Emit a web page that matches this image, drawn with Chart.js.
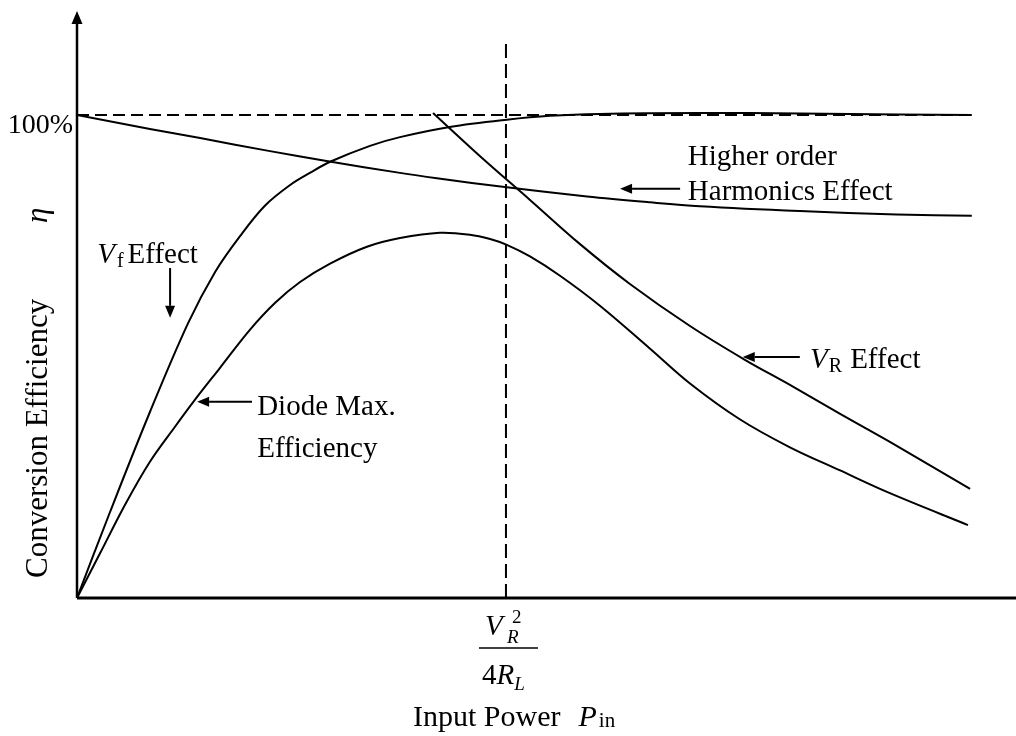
<!DOCTYPE html>
<html>
<head>
<meta charset="utf-8">
<script src="https://cdn.jsdelivr.net/npm/chart.js@4/dist/chart.umd.min.js"></script>
<style>
  html, body { margin: 0; padding: 0; background: #fff; }
  #wrap { width: 1016px; height: 736px; position: relative; }
</style>
</head>
<body>
<div id="wrap"><canvas id="effChart"></canvas></div>
<script>
// x: input power normalised to V_R^2 / 4R_L, y: conversion efficiency (%)
const vfX = [0, 0.077, 0.170, 0.259, 0.322, 0.380, 0.438, 0.497, 0.543, 0.590, 0.683, 0.753, 0.869, 1.002, 1.103, 1.219, 1.452, 1.685, 1.918, 2.086];
const vfY = [0, 17.8, 38.5, 56.9, 67.5, 74.9, 81.2, 85.5, 88.0, 90.3, 93.6, 95.4, 97.5, 99.0, 99.8, 100.2, 100.4, 100.3, 100.1, 100.0];

const diodeX = [0, 0.054, 0.112, 0.170, 0.228, 0.273, 0.333, 0.403, 0.462, 0.520, 0.590, 0.676, 0.753, 0.846, 0.916, 0.963, 1.002, 1.056, 1.126, 1.219, 1.336, 1.429, 1.545, 1.662, 1.779, 1.895, 2.077];
const diodeY = [0, 9.3, 19.3, 28.2, 35.4, 40.8, 47.6, 55.5, 61.1, 65.4, 69.2, 72.7, 74.5, 75.6, 75.2, 74.3, 73.1, 70.7, 66.7, 60.5, 51.6, 44.4, 37.0, 31.2, 26.4, 21.7, 15.1];

const vrX = [0.830, 0.939, 1.056, 1.172, 1.289, 1.429, 1.557, 1.662, 1.779, 1.895, 2.082];
const vrY = [100.4, 91.5, 82.4, 73.3, 65.0, 56.3, 49.3, 44.1, 38.1, 32.3, 22.6];

const harmX = [0, 0.170, 0.287, 0.450, 0.585, 0.753, 0.839, 1.002, 1.189, 1.336, 1.452, 1.685, 1.911, 2.086];
const harmY = [100, 97.1, 95.2, 92.5, 90.4, 88.0, 86.9, 85.0, 83.1, 81.9, 81.1, 80.1, 79.4, 79.1];

const fullX = [0, 2.086];          // 100% reference line
const fullY = [100, 100];
const markX = [1, 1];              // P_in = V_R^2 / 4R_L
const markY = [0, 115.9];

const yTickValues = [100];
const yTickLabels = ['100%'];

const SERIF = '"Liberation Serif", "Times New Roman", serif';
const f = (size, style) => `${style ? style + ' ' : ''}${size}px ${SERIF}`;

// annotation arrows: [fromX, fromY, toX, toY] in data units, head at "to"
const arrows = [
  [1.406, 84.7, 1.266, 84.7],
  [0.217, 68.3, 0.217, 58.0],
  [1.685, 49.9, 1.552, 49.9],
  [0.408, 40.6, 0.280, 40.6]
];

// annotation texts, anchored at left / baseline in data units
const notes = [
  { x: 1.424, y: 89.6, runs: [{ t: 'Higher order', font: f(29) }] },
  { x: 1.424, y: 82.4, runs: [{ t: 'Harmonics Effect', font: f(29) }] },
  { x: 0.047, y: 69.4, runs: [{ t: 'V', font: f(29, 'italic') }, { t: 'f', font: f(20), dx: 2, dy: 4 }, { t: 'Effect', font: f(29), dx: 4 }] },
  { x: 1.709, y: 47.6, runs: [{ t: 'V', font: f(29, 'italic') }, { t: 'R', font: f(20), dx: 1, dy: 4 }, { t: 'Effect', font: f(29), dx: 8 }] },
  { x: 0.420, y: 37.9, runs: [{ t: 'Diode Max.', font: f(29) }] },
  { x: 0.420, y: 29.2, runs: [{ t: 'Efficiency', font: f(29) }] }
];

const pts = (xs, ys) => xs.map((x, i) => ({ x, y: ys[i] }));

function drawRuns(ctx, runs, x, y) {
  let cx = x;
  runs.forEach(r => {
    ctx.font = r.font;
    cx += r.dx || 0;
    ctx.fillText(r.t, cx, y + (r.dy || 0));
    cx += ctx.measureText(r.t).width;
  });
}

function drawArrow(ctx, x1, y1, x2, y2) {
  const ang = Math.atan2(y2 - y1, x2 - x1);
  const len = 12, half = 5;
  const bx = x2 - len * Math.cos(ang), by = y2 - len * Math.sin(ang);
  ctx.beginPath();
  ctx.moveTo(x1, y1);
  ctx.lineTo(bx, by);
  ctx.stroke();
  ctx.beginPath();
  ctx.moveTo(x2, y2);
  ctx.lineTo(bx + half * Math.sin(ang), by - half * Math.cos(ang));
  ctx.lineTo(bx - half * Math.sin(ang), by + half * Math.cos(ang));
  ctx.closePath();
  ctx.fill();
}

const diagram = {
  id: 'diagram',
  afterDraw(chart) {
    const { ctx, chartArea: a, scales: { x, y } } = chart;
    ctx.save();
    ctx.strokeStyle = '#000';
    ctx.fillStyle = '#000';

    // axes
    ctx.lineWidth = 3;
    ctx.beginPath();
    ctx.moveTo(a.left, a.bottom);
    ctx.lineTo(a.right, a.bottom);
    ctx.stroke();
    ctx.lineWidth = 2.5;
    ctx.beginPath();
    ctx.moveTo(a.left, a.bottom);
    ctx.lineTo(a.left, a.top + 10);
    ctx.stroke();
    ctx.beginPath();
    ctx.moveTo(a.left, a.top - 1);
    ctx.lineTo(a.left - 5.5, a.top + 12);
    ctx.lineTo(a.left + 5.5, a.top + 12);
    ctx.closePath();
    ctx.fill();

    // y tick label
    ctx.textBaseline = 'alphabetic';
    ctx.textAlign = 'right';
    ctx.font = f(28);
    yTickValues.forEach((v, i) => ctx.fillText(yTickLabels[i], a.left - 4, y.getPixelForValue(v) + 18));

    // arrows and notes
    ctx.textAlign = 'left';
    ctx.lineWidth = 2;
    arrows.forEach(([x1, y1, x2, y2]) => drawArrow(ctx,
      x.getPixelForValue(x1), y.getPixelForValue(y1), x.getPixelForValue(x2), y.getPixelForValue(y2)));
    notes.forEach(n => drawRuns(ctx, n.runs, x.getPixelForValue(n.x), y.getPixelForValue(n.y)));

    // x marker: V_R^2 / 4R_L
    const mx = x.getPixelForValue(markX[0]);
    drawRuns(ctx, [{ t: 'V', font: f(29, 'italic') }], mx - 21, a.bottom + 37);
    drawRuns(ctx, [{ t: 'R', font: f(19, 'italic') }], mx + 1, a.bottom + 45);
    drawRuns(ctx, [{ t: '2', font: f(19) }], mx + 6, a.bottom + 25);
    ctx.lineWidth = 1.5;
    ctx.beginPath();
    ctx.moveTo(mx - 27, a.bottom + 50);
    ctx.lineTo(mx + 32, a.bottom + 50);
    ctx.stroke();
    drawRuns(ctx, [{ t: '4', font: f(29) }, { t: 'R', font: f(29, 'italic') }, { t: 'L', font: f(19, 'italic'), dy: 6 }], mx - 24, a.bottom + 86);

    // x title
    drawRuns(ctx, [{ t: 'Input Power', font: f(30) }, { t: 'P', font: f(30, 'italic'), dx: 18 }, { t: 'in', font: f(21), dx: 2, dy: 1 }], 413, a.bottom + 128);

    // y title
    ctx.translate(a.left - 30, 578);
    ctx.rotate(-Math.PI / 2);
    drawRuns(ctx, [{ t: 'Conversion Efficiency', font: f(31) }], 0, 0);
    drawRuns(ctx, [{ t: 'η', font: f(31, 'italic') }], 355, 0);
    ctx.restore();
  }
};

const curve = (xs, ys) => ({
  data: pts(xs, ys),
  showLine: true,
  borderColor: '#000',
  borderWidth: 2,
  pointRadius: 0,
  tension: 0.35,
  fill: false
});

const dashed = (xs, ys, dash) => ({
  data: pts(xs, ys),
  showLine: true,
  borderColor: '#000',
  borderWidth: 2,
  borderDash: dash,
  pointRadius: 0,
  fill: false
});

new Chart(document.getElementById('effChart'), {
  type: 'scatter',
  data: {
    datasets: [
      dashed(fullX, fullY, [12, 6]),
      dashed(markX, markY, [14, 6]),
      curve(vfX, vfY),
      curve(diodeX, diodeY),
      curve(vrX, vrY),
      curve(harmX, harmY)
    ]
  },
  options: {
    responsive: true,
    maintainAspectRatio: false,
    animation: false,
    layout: { padding: { left: 77, right: 0, top: 12, bottom: 138 } },
    plugins: { legend: { display: false }, tooltip: { enabled: false } },
    scales: {
      x: { type: 'linear', min: 0, max: 2.189, display: false },
      y: { type: 'linear', min: 0, max: 121.3, display: false }
    }
  },
  plugins: [diagram]
});
</script>
</body>
</html>
